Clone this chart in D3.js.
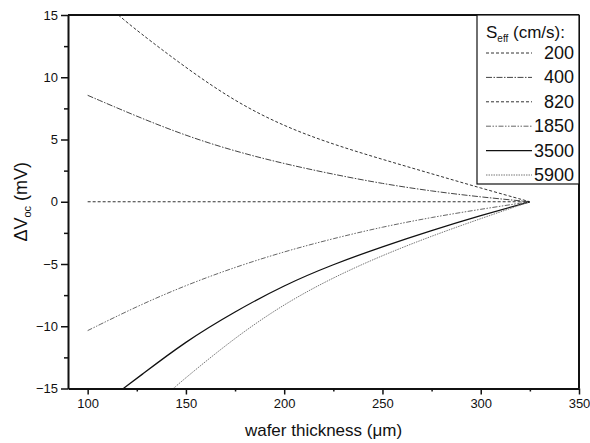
<!DOCTYPE html>
<html><head><meta charset="utf-8">
<script src="https://cdn.jsdelivr.net/npm/d3@7"></script>
<style>body{margin:0;background:#fff}svg{display:block}text{font-family:"Liberation Sans",Arial,sans-serif;fill:#111}</style>
</head><body>
<svg id="c" width="590" height="443"></svg>
<script>
const seriesNames = ["200","400","820","1850","3500","5900"];
const x200 = [115.6,125,150,175,200,225,250,275,300,325];
const y200 = [15,13.75,10.75,8.05,6.05,4.6,3.4,2.25,1.1,0];
const x400 = [100,125,150,175,200,225,250,275,300,325];
const y400 = [8.55,6.85,5.3,4.05,3.05,2.2,1.45,0.85,0.38,0];
const x820 = [100,325];
const y820 = [0,0];
const x1850 = [100,125,150,175,200,225,250,275,300,325];
const y1850 = [-10.35,-8.4,-6.7,-5.25,-4.0,-2.95,-2.02,-1.25,-0.6,0];
const x3500 = [118.2,125,150,175,200,225,250,275,300,325];
const y3500 = [-15,-14.19,-11.19,-8.81,-6.69,-5.02,-3.6,-2.3,-1.1,0];
const x5900 = [143.6,150,175,200,225,250,275,300,325];
const y5900 = [-15,-14.12,-10.9,-8.2,-6.07,-4.3,-2.75,-1.35,0];
const xTicks = [100,150,200,250,300,350];
const yTicks = [-15,-10,-5,0,5,10,15];

const seriesX = [x200,x400,x820,x1850,x3500,x5900];
const seriesY = [y200,y400,y820,y1850,y3500,y5900];
const styles = [
  {stroke:"#333", dash:"3,2", w:1},
  {stroke:"#444", dash:"6,1.5,1.5,1.5", w:1},
  {stroke:"#333", dash:"3,2", w:1},
  {stroke:"#666", dash:"5,1.5,1.5,1.5,1.5,1.5", w:1},
  {stroke:"#111", dash:null, w:1.3},
  {stroke:"#777", dash:"1.5,1", w:1}
];

const svg = d3.select("#c");
const L=68, R=579, T=15, B=388.5;
const x = d3.scaleLinear().domain([90,350]).range([L,R]);
const y = d3.scaleLinear().domain([-15,15]).range([B,T]);

svg.append("clipPath").attr("id","clip").append("rect")
  .attr("x",L).attr("y",T).attr("width",R-L).attr("height",B-T);

const line = d3.line().x(d=>x(d[0])).y(d=>y(d[1])).curve(d3.curveBasis);
const g = svg.append("g").attr("clip-path","url(#clip)");
seriesNames.forEach((n,i)=>{
  const pts = seriesX[i].map((v,j)=>[v,seriesY[i][j]]);
  g.append("path").attr("d",line(pts)).attr("fill","none")
    .attr("stroke",styles[i].stroke).attr("stroke-width",styles[i].w)
    .attr("stroke-dasharray",styles[i].dash);
});

// axes
const xMinor = d3.range(125,350,50);
const yMinor = d3.range(-12.5,15,5);
const xa = svg.append("g").attr("transform",`translate(0,${B})`);
xa.call(d3.axisBottom(x).tickValues(xTicks).tickSize(6).tickSizeOuter(0).tickPadding(4));
xa.selectAll("text").style("font-size","13px");
const xm = svg.append("g").attr("transform",`translate(0,${B})`);
xm.call(d3.axisBottom(x).tickValues(xMinor).tickSize(3).tickSizeOuter(0).tickFormat(""));
xm.select(".domain").remove();
const ya = svg.append("g").attr("transform",`translate(${L},0)`);
ya.call(d3.axisLeft(y).tickValues(yTicks).tickSize(7).tickSizeOuter(0).tickPadding(3));
ya.selectAll("text").style("font-size","13px");
const ym = svg.append("g").attr("transform",`translate(${L},0)`);
ym.call(d3.axisLeft(y).tickValues(yMinor).tickSize(4).tickSizeOuter(0).tickFormat(""));
ym.select(".domain").remove();
svg.selectAll(".domain").attr("stroke","#111").attr("stroke-width",2);
svg.selectAll(".tick line").attr("stroke","#111").attr("stroke-width",1.5);
// frame top/right
svg.append("line").attr("x1",L).attr("x2",R).attr("y1",T).attr("y2",T).attr("stroke","#111").attr("stroke-width",2);
svg.append("line").attr("x1",R).attr("x2",R).attr("y1",T).attr("y2",B).attr("stroke","#111").attr("stroke-width",2);

// axis titles
svg.append("text").attr("x",(L+R)/2).attr("y",436).attr("text-anchor","middle")
  .style("font-size","17px").text("wafer thickness (μm)");
const yt = svg.append("text").attr("transform",`translate(27,${(T+B)/2}) rotate(-90)`)
  .attr("text-anchor","middle").style("font-size","18px");
yt.append("tspan").text("ΔV");
yt.append("tspan").attr("dy",4).style("font-size","11px").text("oc");
yt.append("tspan").attr("dy",-4).text(" (mV)");

// legend
const lgL = 477, lgB = 184;
svg.append("rect").attr("x",lgL).attr("y",T).attr("width",R-lgL).attr("height",lgB-T)
  .attr("fill","#fff").attr("stroke","#111").attr("stroke-width",1.2);
const lt = svg.append("text").attr("x",486).attr("y",38).style("font-size","17px");
lt.append("tspan").text("S");
lt.append("tspan").attr("dy",4).style("font-size","10px").text("eff");
lt.append("tspan").attr("dy",-4).text(" (cm/s):");
seriesNames.forEach((n,i)=>{
  const yy = 53 + i*24.4;
  svg.append("line").attr("x1",486).attr("x2",532).attr("y1",yy).attr("y2",yy)
    .attr("stroke",styles[i].stroke).attr("stroke-width",styles[i].w)
    .attr("stroke-dasharray",styles[i].dash);
  svg.append("text").attr("x",574).attr("y",yy+6).attr("text-anchor","end")
    .style("font-size","18px").text(n);
});
</script>
</body></html>
